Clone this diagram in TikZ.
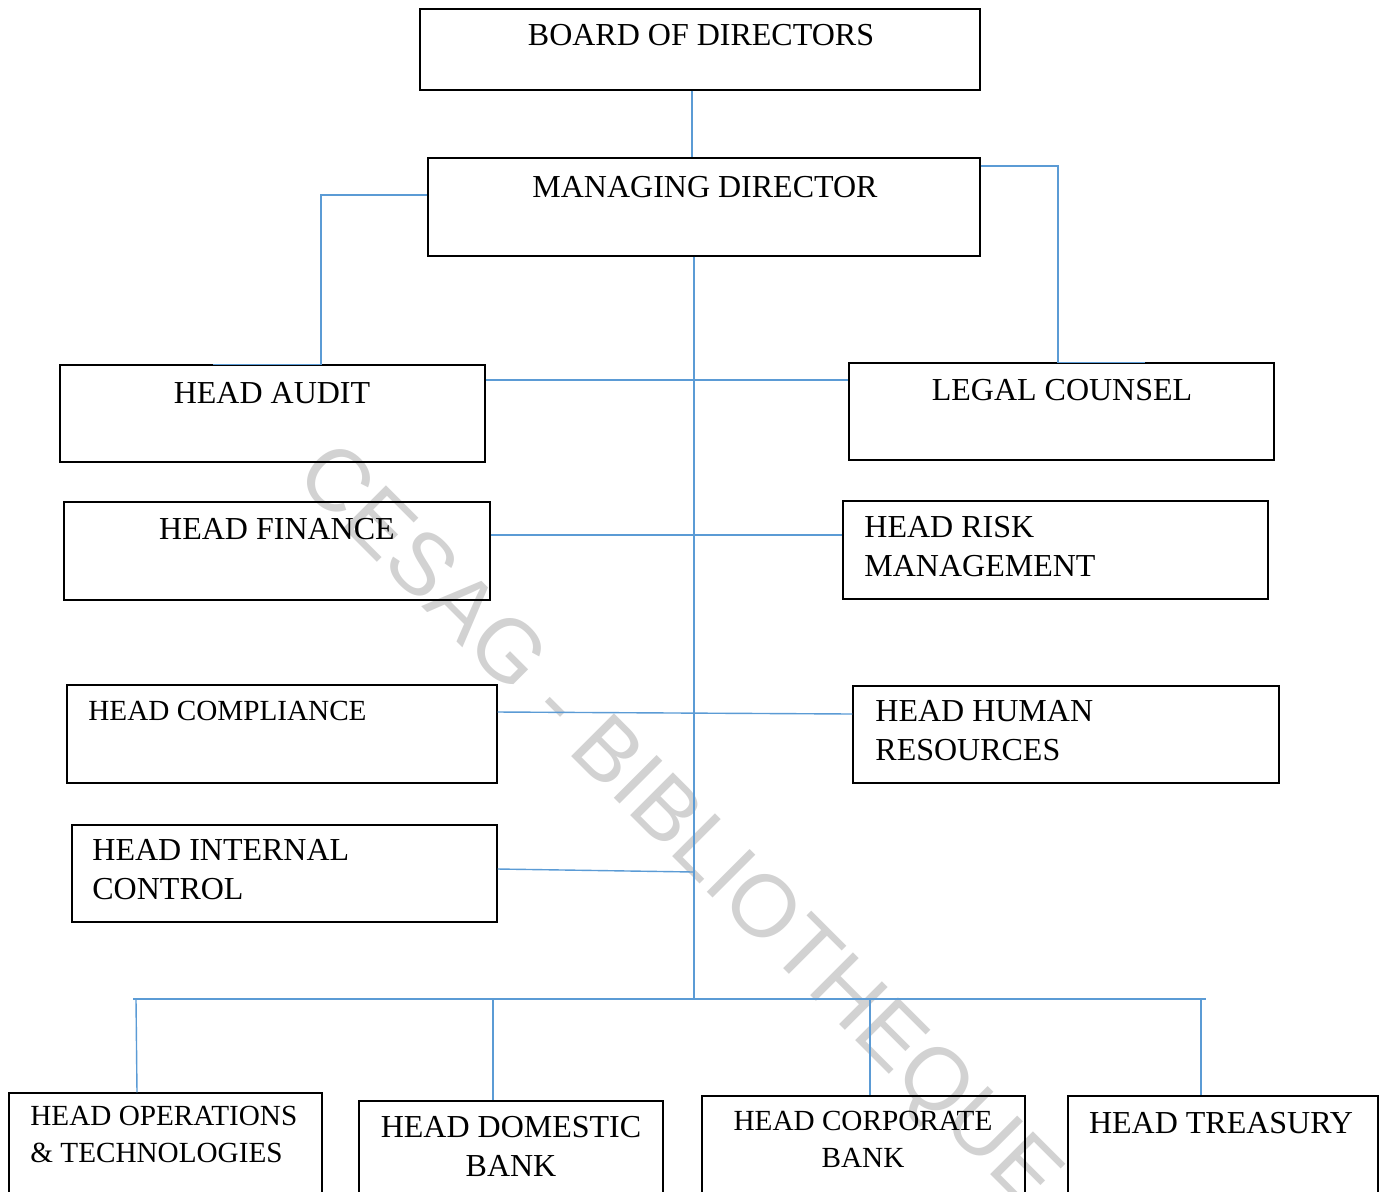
\documentclass[tikz,border=0pt]{standalone}
\usepackage{fontspec}
\setmainfont{Liberation Serif}
\newfontfamily\wmfont{Liberation Sans}
\usetikzlibrary{fit}
\definecolor{linkblue}{RGB}{91,155,213}

\begin{document}
\begin{tikzpicture}[
    x=0.5pt, y=-0.5pt,
    box/.style={draw, line width=0.6pt, inner sep=0pt},
    title/.style={inner sep=0pt, font=\fontsize{16}{19.5}\selectfont},
    smalltitle/.style={inner sep=0pt, font=\fontsize{14.6}{18.5}\selectfont},
    link/.style={draw=linkblue, line width=0.7pt},
    watermark/.style={inner sep=0pt, text=gray!35, font=\wmfont\fontsize{44}{44}\selectfont}
]
\useasboundingbox (0,0) rectangle (1383,1191);
\clip (0,0) rectangle (1383,1191);

% Watermark
\node[watermark, rotate=-45] (wm) at (676,829) {CESAG - BIBLIOTHEQUE};

% Top management
\node[box, fit={(420,9) (980,90)}] (board) {};
\node[title] (board-t) at (701,35) {BOARD OF DIRECTORS};
\node[box, fit={(428,158) (980,256)}] (md) {};
\node[title] (md-t) at (705,187) {MANAGING DIRECTOR};

% Left column
\node[box, fit={(60,365) (485,462)}] (audit) {};
\node[title] (audit-t) at (272,393) {HEAD AUDIT};
\node[box, fit={(64,502) (490,600)}] (finance) {};
\node[title] (finance-t) at (277,529) {HEAD FINANCE};
\node[box, fit={(67,685) (497,783)}] (compliance) {};
\node[smalltitle, anchor=west] (compliance-t) at (88,711) {HEAD COMPLIANCE};
\node[box, fit={(72,825) (497,922)}] (internal) {};
\node[title, anchor=west, align=left] (internal-t) at (92,870) {HEAD INTERNAL\\CONTROL};

% Right column
\node[box, fit={(849,363) (1274,460)}] (legal) {};
\node[title] (legal-t) at (1062,390) {LEGAL COUNSEL};
\node[box, fit={(843,501) (1268,599)}] (risk) {};
\node[title, anchor=west, align=left] (risk-t) at (864,547) {HEAD RISK\\MANAGEMENT};
\node[box, fit={(853,686) (1279,783)}] (hr) {};
\node[title, anchor=west, align=left] (hr-t) at (875,731) {HEAD HUMAN\\RESOURCES};

% Bottom row
\node[box, fit={(9,1093) (322,1230)}] (ops) {};
\node[smalltitle, anchor=west, align=left] (ops-t) at (30,1134) {HEAD OPERATIONS\\\& TECHNOLOGIES};
\node[box, fit={(359,1101) (663,1230)}] (domestic) {};
\node[title, align=center] (domestic-t) at (511,1146) {HEAD DOMESTIC\\BANK};
\node[box, fit={(702,1096) (1025,1230)}] (corporate) {};
\node[smalltitle, align=center] (corporate-t) at (863,1139) {HEAD CORPORATE\\BANK};
\node[box, fit={(1068,1096) (1378,1230)}] (treasury) {};
\node[title] (treasury-t) at (1221,1123) {HEAD TREASURY};

% Connectors
\coordinate (bus) at (694,999);
\draw[link] (board.south -| 692,0) -- (md.north -| 692,0);
\draw[link] (md.west |- 0,195) -| (audit.north -| 321,0) -- (audit.north -| 213,0);
\draw[link] (md.east |- 0,166) -| (legal.north -| 1058,0) -- (legal.north -| 1145,0);
\draw[link] (md.south -| bus) -- (bus);
\draw[link] (audit.east |- 0,380) -- (legal.west |- 0,380);
\draw[link] (finance.east |- 0,535) -- (risk.west |- 0,535);
\draw[link] (compliance.east |- 0,712) -- (hr.west |- 0,714);
\draw[link] (internal.east |- 0,869) -- (bus |- 0,872);
\draw[link] (bus -| 133,0) -- (bus -| 1206,0);
\draw[link] (bus -| 136,0) -- (ops.north -| 137,0);
\draw[link] (bus -| 493,0) -- (domestic.north -| 493,0);
\draw[link] (bus -| 870,0) -- (corporate.north -| 870,0);
\draw[link] (bus -| 1201,0) -- (treasury.north -| 1201,0);

\end{tikzpicture}
\end{document}
